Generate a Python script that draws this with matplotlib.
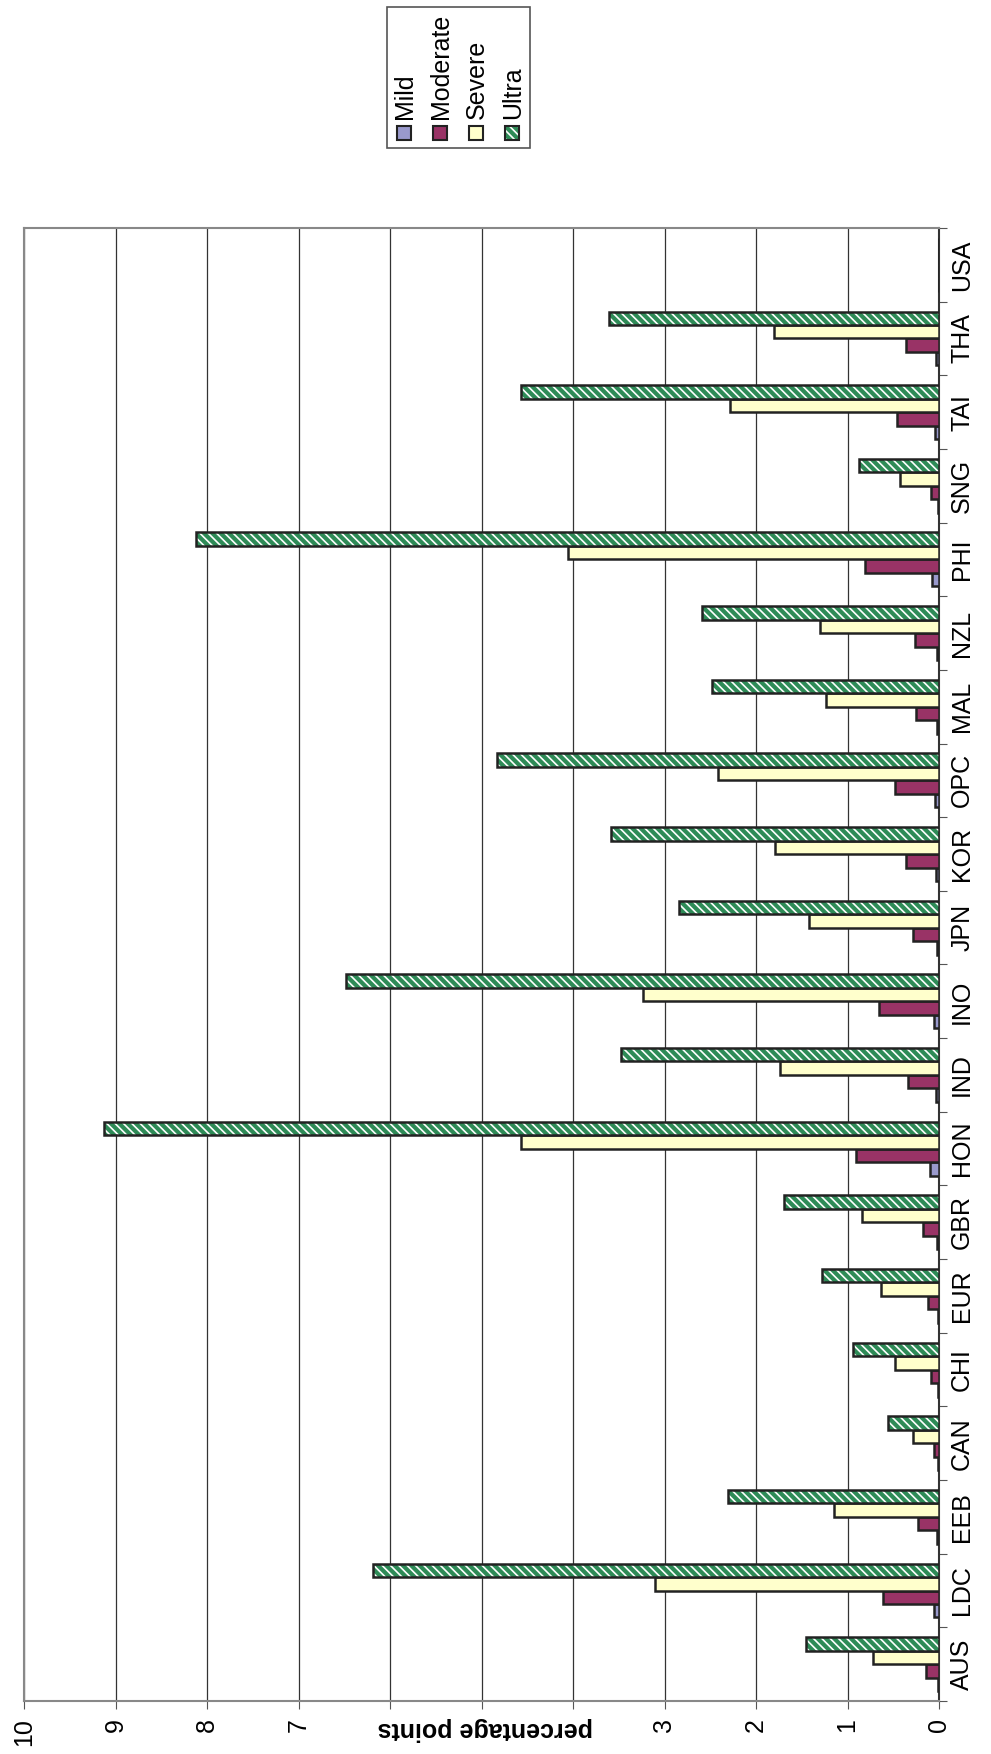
import matplotlib
matplotlib.use("Agg")
import matplotlib.pyplot as plt
from matplotlib.patches import Rectangle
import numpy as np

plt.rcParams['font.family'] = ['Liberation Sans', 'DejaVu Sans']
plt.rcParams['hatch.linewidth'] = 1.2

categories = ["AUS","LDC","EEB","CAN","CHI","EUR","GBR","HON","IND","INO",
              "JPN","KOR","OPC","MAL","NZL","PHI","SNG","TAI","THA","USA"]
mild     = [0.01,0.06,0.02,0.01,0.01,0.01,0.02,0.10,0.03,0.06,0.02,0.03,0.04,0.02,0.02,0.08,0.01,0.04,0.03,0.0]
moderate = [0.14,0.61,0.23,0.05,0.09,0.12,0.17,0.91,0.34,0.66,0.28,0.36,0.48,0.25,0.26,0.81,0.09,0.46,0.36,0.0]
severe   = [0.72,3.10,1.15,0.28,0.48,0.63,0.84,4.57,1.74,3.24,1.42,1.79,2.42,1.24,1.30,4.06,0.43,2.28,1.80,0.0]
ultra    = [1.45,6.19,2.31,0.56,0.94,1.28,1.69,9.13,3.48,6.48,2.84,3.59,4.83,2.48,2.59,8.12,0.87,4.57,3.61,0.0]
series_names = ["Mild","Moderate","Severe","Ultra"]
colors = ["#9999CC","#993366","#FFFFCC","#2E8B57"]

W, H = 991, 1754
fig = plt.figure(figsize=(W/100, H/100), dpi=100)
ax = fig.add_axes([24/W, 1-1701/H, (939-24)/W, (1701-228)/H])

y = np.arange(len(categories))
bw = 0.183
data = [mild, moderate, severe, ultra]
HATCH = '\\\\\\\\'
for i, (vals, c) in enumerate(zip(data, colors)):
    pos = y + (i-1.5)*bw
    if i == 3:
        ax.barh(pos, vals, height=bw, color=c, edgecolor='white', hatch=HATCH, linewidth=0, zorder=3)
        ax.barh(pos, vals, height=bw, fill=False, edgecolor='#222222', linewidth=1.8, zorder=4)
    else:
        ax.barh(pos, vals, height=bw, color=c, edgecolor='#222222', linewidth=1.8, zorder=3)

ax.set_xlim(10, 0)
ax.set_ylim(-0.5, len(categories)-0.5)
ax.set_xticks(np.arange(0, 11, 1))
ax.set_xticklabels([str(v) for v in range(11)], rotation=90, fontsize=18)
ax.grid(axis='x', color='#333333', linewidth=0.9, zorder=0)
ax.yaxis.tick_right()
ax.set_yticks(np.arange(-0.5, len(categories), 1))
ax.set_yticklabels([])
ax.set_yticks(y, minor=True)
ax.set_yticklabels(categories, minor=True, rotation=90, fontsize=18, va='center')
ax.tick_params(axis='y', which='minor', length=0, pad=8)
ax.tick_params(axis='y', which='major', length=6, direction='out', color='#555555')
ax.tick_params(axis='x', length=6, direction='out', color='#555555', pad=6)
for s in ax.spines.values():
    s.set_color('#888888'); s.set_linewidth(1.5)
ax.spines['right'].set_color('#333333')

fig.text(485/W, 1-1729/H, "percentage points", rotation=180, fontsize=18,
         fontweight='bold', ha='center', va='center', zorder=10,
         bbox=dict(facecolor='white', edgecolor='none', pad=1))

# legend (rotated)
fig.patches.append(Rectangle((387/W, 1-148/H), (530-387)/W, (148-7)/H,
                             transform=fig.transFigure, fill=False, edgecolor='#555555', lw=1.2))
xs = [404, 440, 476, 512]
for name, c, x in zip(series_names, colors, xs):
    r = ((x-7)/W, 1-140/H)
    if name == "Ultra":
        fig.patches.append(Rectangle(r, 14/W, 14/H, transform=fig.transFigure,
                                     facecolor=c, edgecolor='white', hatch=HATCH, lw=0))
        fig.patches.append(Rectangle(r, 14/W, 14/H, transform=fig.transFigure,
                                     fill=False, edgecolor='#222222', lw=1.5))
    else:
        fig.patches.append(Rectangle(r, 14/W, 14/H, transform=fig.transFigure,
                                     facecolor=c, edgecolor='#222222', lw=1.5))
    fig.text((x+1)/W, 1-119/H, name, rotation=90, fontsize=18, ha='center', va='bottom')

fig.savefig("out.png", dpi=100)
